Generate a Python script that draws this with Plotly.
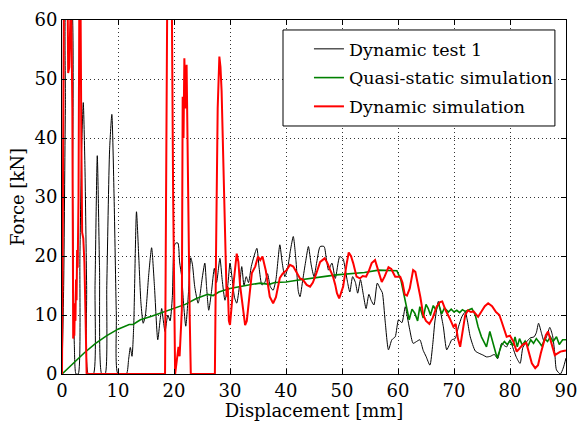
import plotly.graph_objects as go

# ---- data ----
test_x = [0, 0.3, 0.6, 0.9, 1.5, 1.9, 2.2, 2.5, 2.9, 3.2, 3.5, 3.8, 4.1, 4.4, 4.7, 5.6, 5.9, 6.3, 6.7, 7.1,
          7.7, 8.0, 8.5, 8.9, 9.3, 9.7, 10.0, 11.5, 11.9, 12.2, 12.5, 12.8, 13.3, 13.7, 14.1, 14.5, 14.9, 15.5, 16.0, 16.5,
          17.1, 17.5, 17.8, 18.1, 18.4, 18.9, 19.3, 19.7, 20.0, 20.3, 20.7, 21.0, 21.4, 21.7, 22.1, 22.6, 23.0, 23.3, 23.7, 24.3,
          24.6, 25.0, 25.5, 25.8, 26.2, 26.7, 27.2, 27.6, 28.2, 28.6, 29.1, 29.6, 30.0, 30.4, 30.8, 31.2, 31.7, 32.1, 32.5, 32.9,
          33.3, 33.8, 34.3, 34.8, 35.2, 35.7, 36.2, 36.7, 37.2, 37.7, 38.2, 38.9, 39.3, 39.8, 40.3, 40.8, 41.3, 41.8, 42.2, 42.5,
          43.0, 43.5, 44.0, 44.5, 45.0, 45.5, 46.1, 46.8, 47.2, 47.6, 48.2, 48.8, 49.6, 50.2, 50.5, 51.0, 51.4, 51.9, 52.4, 52.8,
          53.3, 53.8, 54.3, 54.8, 55.2, 55.7, 56.3, 56.8, 57.2, 57.7, 58.3, 58.9, 59.5, 60.1, 60.7, 61.3, 61.7, 62.1, 62.7, 63.3,
          63.9, 64.5, 65.0, 65.7, 66.2, 66.6, 67.2, 67.6, 68.1, 68.7, 69.2, 69.6, 70.2, 70.8, 71.4, 72.0, 72.4, 72.9, 73.8, 74.5,
          75.2, 75.8, 76.5, 77.2, 77.8, 78.5, 79.0, 79.4, 80.0, 80.5, 81.1, 81.8, 82.3, 83.0, 83.6, 84.3, 84.7, 85.1, 85.6, 86.1,
          86.6, 87.1, 87.6, 88.0, 88.3, 89.0, 89.5, 90.0]
test_y = [0, 15, 45, 65, 65, 30, 5, 0, 0, 20, 38, 46, 35, 15, 0, 0, 15, 37, 18, 0,
          0, 15, 38, 44, 30, 10, 0, 0, 2.5, 4.5, 3, 8, 27.5, 20, 12, 8.6, 10, 17, 21.4, 15,
          5.8, 9, 11.1, 9, 7.2, 10, 9, 13, 21.5, 22.2, 22.2, 19, 16.3, 12, 8.1, 14, 19.7, 18.5, 14.8, 12,
          13.1, 16, 18.8, 15, 10.8, 14, 17.9, 15.5, 19.6, 16, 12.5, 15, 18.8, 16, 13, 12, 15, 18.2, 15, 16.5,
          15.5, 18.2, 20, 21.3, 18, 15.1, 15.5, 17, 14.8, 14.2, 16, 21.9, 19, 16.5, 18, 21, 23.3, 19, 14, 13.1,
          16, 19, 21.6, 18.5, 16.5, 19, 21.6, 21.6, 19.5, 17.6, 18.8, 16.2, 19.9, 19.5, 18.2, 15.5, 13.9, 16.5, 15.5, 13.7,
          16, 13.5, 11.1, 13.5, 12.5, 11.7, 15.4, 14.5, 13.8, 9, 4.1, 5.8, 6.3, 9.2, 8.7, 11.4, 9.5, 7.5, 5.2, 5.5,
          5.8, 4, 3, 1.5, 5, 9, 12.3, 10.5, 8, 4.1, 5, 5.8, 6, 8, 9.7, 10.5, 9, 6.3, 3.9, 3.5,
          3.2, 2.9, 3, 3.3, 2.6, 5.2, 4.8, 4.6, 5.8, 4.5, 2.9, 1.8, 4.5, 5.5, 6.1, 6.3, 7, 8.6, 7, 5.5,
          6.5, 7.9, 6.5, 3.5, 0.7, 0, 1, 2.7]

quasi_x = [0, 2, 4, 6, 8, 10, 12, 12.7, 14, 16, 18, 20, 22, 24, 25, 26, 27, 28, 30, 32,
           34, 35.4, 37, 38, 40, 42, 44, 46.7, 49, 52, 54, 56.5, 58, 59.8, 60.5, 61.0, 61.6, 62.0, 62.5, 63.0,
           63.5, 63.9, 64.5, 65.0, 65.4, 65.8, 66.3, 66.8, 67.2, 67.8, 68.3, 69.0, 69.5, 70.0, 70.5, 71.0, 71.5, 72.0, 72.5, 73.2,
           73.8, 74.3, 74.9, 75.8, 76.4, 77.0, 77.7, 78.5, 79.0, 79.5, 80.0, 80.5, 80.9, 81.3, 81.7, 82.2, 82.7, 83.2, 83.7, 84.2,
           84.7, 85.2, 85.7, 86.2, 86.7, 87.2, 87.7, 88.3, 88.8, 89.4, 90.0]
quasi_y = [0, 1.8, 3.6, 5.2, 6.5, 7.6, 8.4, 8.4, 9.2, 9.8, 10.5, 11.1, 11.8, 12.8, 13.1, 13.5, 13.3, 13.9, 14.5, 14.9,
           15.2, 15.4, 15.2, 15.5, 15.6, 15.9, 16.2, 16.5, 16.8, 17.1, 17.2, 17.6, 17.6, 17.5, 16, 13.7, 11.4, 9.2, 11, 10.3,
           9.0, 11.4, 9.5, 11.8, 11.1, 10.0, 11.6, 10.8, 12.0, 10.2, 11.2, 10.5, 11.0, 10.5, 10.8, 10.4, 10.9, 10.6, 10.8, 11.1,
           10.0, 8.0, 6.3, 4.6, 7.2, 5.0, 2.7, 4.9, 5.5, 5.0, 5.6, 4.8, 6.3, 4.6, 6.0, 4.9, 5.6, 4.7, 5.8, 5.2,
           6.0, 5.4, 4.7, 6.0, 5.5, 6.3, 5.5, 6.3, 5.0, 5.8, 5.8]

dyn_x = [0, 0.2, 0.35, 1.0, 1.1, 1.3, 1.4, 1.6, 1.7, 1.85, 2.0, 2.1, 2.2, 2.3, 2.4, 2.5, 2.6, 2.7, 2.8, 2.95,
         3.1, 3.3, 3.45, 3.6, 3.8, 4.0, 4.2, 4.4, 18.4, 18.6, 18.8, 19.6, 19.85, 20.2, 20.5, 20.8, 21.0, 21.2, 21.4, 21.55,
         21.7, 21.85, 22.05, 22.25, 22.5, 22.8, 23.0, 27.3, 27.5, 27.8, 28.1, 28.3, 28.5, 28.7, 29.0, 29.2, 29.4, 29.6, 29.8, 30.0,
         30.3, 30.7, 31.2, 31.5, 31.8, 32.1, 32.4, 32.7, 33.0, 33.4, 33.9, 34.5, 35.0, 35.4, 35.8, 36.4, 36.8, 37.1, 37.7, 38.2,
         38.9, 39.4, 40.1, 40.7, 41.3, 42.0, 42.5, 43.0, 43.7, 44.3, 44.8, 45.4, 46.1, 46.9, 47.4, 47.9, 48.4, 48.8, 49.1, 49.5,
         50.2, 50.8, 51.2, 51.6, 52.0, 52.6, 53.2, 53.7, 54.3, 54.8, 55.3, 55.9, 56.5, 57.1, 57.6, 58.3, 58.8, 59.5, 60.4, 60.8,
         61.2, 61.6, 62.1, 62.7, 63.1, 63.5, 64.0, 64.5, 65.0, 65.6, 66.2, 66.9, 67.5, 67.9, 68.5, 69.2, 69.9, 70.3, 70.7, 71.1,
         71.5, 72.0, 72.5, 73.0, 73.5, 74.3, 74.9, 75.5, 76.1, 76.8, 77.5, 78.1, 78.5, 79.0, 79.4, 80.0, 80.6, 81.2, 81.8, 82.3,
         82.9, 83.4, 83.9, 84.5, 85.0, 85.5, 86.0, 86.4, 86.8, 87.2, 87.6, 88.0, 88.5, 89.0, 89.5, 90.0]
dyn_y = [0, 30, 65, 65, 51, 52, 65, 65, 58, 45, 6, 9, 6.5, 12, 9, 16, 12.5, 21, 18, 30,
         65, 65, 40, 24, 23, 19, 10, 0, 0, 40, 65, 65, 30, 0, 2, 4.6, 3, 6.3, 10.8, 47,
         40, 53.5, 45, 52.4, 30, 10, 0, 0, 20, 45, 53.8, 52, 48, 40, 25, 18, 13.1, 14.8, 9, 8.3,
         12, 16, 20.4, 19, 15, 13, 10.8, 8.3, 9, 13, 17.1, 18.2, 19.9, 19.3, 19.9, 17.5, 15, 13.1, 12, 13,
         16.3, 17, 17.6, 18.5, 18.2, 17, 16.2, 16, 15.1, 14.8, 15.5, 17, 19, 19.6, 18.8, 17.6, 16.5, 15.1, 13.7, 12.8,
         14.8, 18.5, 20.6, 20, 18.8, 16.5, 16.2, 16.6, 16.5, 17.5, 18.8, 19.3, 17.5, 15.6, 16.5, 18.1, 17.8, 16.5, 16.5, 15.5,
         13.5, 13.3, 14.5, 17.6, 17.3, 15.5, 13, 10, 9, 8.5, 9.5, 11.4, 12.2, 12.3, 10.8, 9.5, 8, 8.5, 6, 4.6,
         7, 10, 10.8, 10.5, 10.6, 9.7, 10.6, 11.5, 12, 11.5, 10.5, 10, 8.9, 7.5, 6.3, 6.5, 5.5, 3.8, 4.5, 5,
         5.3, 3.5, 1.8, 1, 1.5, 3.5, 5.5, 6.6, 7.2, 6, 4.5, 3.2, 3.5, 3.8, 3.9, 4]

x_ticks = [0, 10, 20, 30, 40, 50, 60, 70, 80, 90]
y_ticks = [0, 10, 20, 30, 40, 50, 60]

FONT = "DejaVu Serif"
FS = 18

fig = go.Figure()
fig.add_trace(go.Scatter(x=test_x, y=test_y, mode="lines", name="Dynamic test 1",
                         line=dict(color="black", width=1, shape="spline", smoothing=0.6),
                         legendgroup="a"))
fig.add_trace(go.Scatter(x=quasi_x, y=quasi_y, mode="lines", name="Quasi-static simulation",
                         line=dict(color="#008000", width=1.6), legendgroup="b"))
fig.add_trace(go.Scatter(x=dyn_x, y=dyn_y, mode="lines", name="Dynamic simulation",
                         line=dict(color="#ff0000", width=2), legendgroup="c"))

axis_common = dict(
    showline=True, linecolor="black", linewidth=1, mirror="allticks",
    ticks="inside", ticklen=5, tickcolor="black", tickwidth=1,
    showgrid=True, gridcolor="#333333", griddash="1px,3px", gridwidth=1,
    zeroline=False, automargin=False, ticklabeloverflow="allow",
    tickfont=dict(family=FONT, size=FS, color="black"),
)

# legend frame (opaque box as in the original)
fig.add_shape(type="rect", xref="paper", yref="paper",
              x0=0.4385, x1=0.978, y0=0.7006, y1=0.9718,
              line=dict(color="black", width=1), fillcolor="white", layer="above")

fig.update_layout(
    width=577, height=421,
    margin=dict(l=62, r=11, t=20, b=47),
    paper_bgcolor="white", plot_bgcolor="white",
    font=dict(family=FONT, size=FS, color="black"),
    showlegend=True,
    legend=dict(x=0.49, y=0.969, xanchor="left", yanchor="top",
                bgcolor="rgba(0,0,0,0)", borderwidth=0,
                font=dict(family=FONT, size=17.5, color="black"),
                tracegroupgap=3, traceorder="grouped"),
    xaxis=dict(range=[0, 90], tickvals=x_ticks,
               title=dict(text="Displacement [mm]", standoff=2, font=dict(family=FONT, size=FS)),
               **axis_common),
    yaxis=dict(range=[0, 60], tickvals=y_ticks,
               title=dict(text="Force [kN]", standoff=5, font=dict(family=FONT, size=FS)),
               **axis_common),
)

fig.write_html("out.html")
